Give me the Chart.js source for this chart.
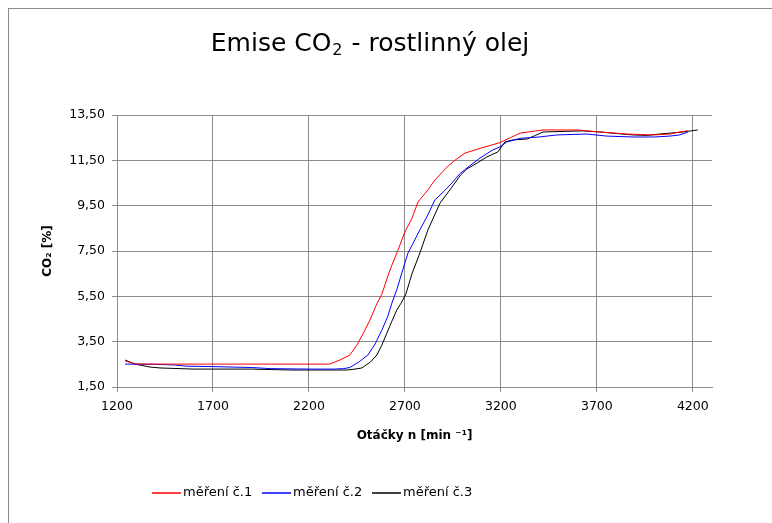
<!DOCTYPE html>
<html>
<head>
<meta charset="utf-8">
<script src="https://cdn.jsdelivr.net/npm/chart.js@4"></script>
<style>
  html, body { margin: 0; padding: 0; background: #fff; }
  #wrap { position: relative; width: 772px; height: 523px; }
</style>
</head>
<body>
<div id="wrap"><canvas id="chart" width="772" height="523"></canvas></div>
<script>
// === data ===
const seriesNames = ["měření č.1", "měření č.2", "měření č.3"];
const seriesColors = ["#ff0000", "#0000ff", "#000000"];

const mereni1X = [1242, 1270, 1300, 1400, 2000, 2309, 2340, 2361, 2413, 2450, 2485, 2518, 2550, 2580, 2622, 2664, 2700, 2737, 2768, 2820, 2856, 2919, 2960, 3013, 3100, 3195, 3250, 3300, 3419, 3596, 3716, 3856, 3992, 4080, 4132, 4174];
const mereni1Y = [2.65, 2.58, 2.52, 2.51, 2.51, 2.51, 2.62, 2.69, 2.91, 3.35, 3.90, 4.46, 5.10, 5.60, 6.66, 7.54, 8.34, 8.95, 9.66, 10.20, 10.63, 11.20, 11.50, 11.82, 12.05, 12.28, 12.50, 12.70, 12.84, 12.84, 12.75, 12.66, 12.62, 12.66, 12.75, 12.80];

const mereni2X = [1242, 1400, 1500, 1560, 1700, 1900, 2000, 2200, 2330, 2380, 2413, 2460, 2507, 2545, 2580, 2610, 2632, 2658, 2690, 2716, 2740, 2778, 2820, 2856, 2905, 2945, 2985, 3023, 3091, 3158, 3195, 3231, 3299, 3400, 3492, 3648, 3752, 3888, 4000, 4080, 4132, 4174];
const mereni2Y = [2.51, 2.50, 2.47, 2.42, 2.40, 2.36, 2.31, 2.29, 2.29, 2.31, 2.36, 2.60, 2.91, 3.40, 4.01, 4.60, 5.20, 5.80, 6.70, 7.41, 7.80, 8.43, 9.10, 9.75, 10.15, 10.50, 10.90, 11.16, 11.60, 11.96, 12.09, 12.31, 12.47, 12.53, 12.62, 12.66, 12.57, 12.53, 12.53, 12.57, 12.62, 12.75];

const mereni3X = [1242, 1294, 1372, 1424, 1600, 1900, 2100, 2398, 2440, 2476, 2520, 2554, 2580, 2606, 2632, 2658, 2680, 2705, 2737, 2778, 2820, 2882, 2945, 2990, 3023, 3080, 3127, 3184, 3221, 3263, 3336, 3380, 3419, 3627, 3716, 3888, 3960, 4028, 4148, 4226];
const mereni3Y = [2.69, 2.51, 2.38, 2.34, 2.29, 2.29, 2.25, 2.25, 2.29, 2.34, 2.60, 2.91, 3.35, 3.88, 4.40, 4.90, 5.20, 5.60, 6.50, 7.41, 8.43, 9.60, 10.32, 10.85, 11.12, 11.40, 11.65, 11.87, 12.31, 12.40, 12.44, 12.60, 12.75, 12.80, 12.75, 12.62, 12.60, 12.66, 12.75, 12.84];

const yTicks = [1.5, 3.5, 5.5, 7.5, 9.5, 11.5, 13.5];
const xTicks = [1200, 1700, 2200, 2700, 3200, 3700, 4200];

const titleParts = ["Emise CO", "2", " - rostlinný olej"];
const yTitle = "CO\u2082 [%]";
const xTitle = "Otáčky n [min \u207B\u00B9]";

const gridColor = "#8c8c8c";

function pts(xs, ys) {
  return xs.map((x, i) => ({ x: x, y: ys[i] }));
}

// rámeček, nadpis a legenda kreslíme sami
const decorPlugin = {
  id: "decor",
  beforeDraw(chart) {
    const c = chart.ctx;
    c.save();
    c.fillStyle = "#fff";
    c.fillRect(0, 0, chart.width, chart.height);
    c.fillStyle = "#8a8a8a";
    c.fillRect(8, 8, 800, 1);
    c.fillRect(8, 8, 1, 800);
    c.restore();
  },
  afterDraw(chart) {
    const c = chart.ctx;
    c.save();
    // title
    const big = "25px 'DejaVu Sans', sans-serif";
    const small = "16px 'DejaVu Sans', sans-serif";
    c.fillStyle = "#000";
    c.textAlign = "left";
    c.textBaseline = "alphabetic";
    c.font = big;
    const w0 = c.measureText(titleParts[0]).width;
    const w2 = c.measureText(titleParts[2]).width;
    c.font = small;
    const w1 = c.measureText(titleParts[1]).width + 2;
    let x = 370 - (w0 + w1 + w2) / 2;
    const base = 51;
    c.font = big;
    c.fillText(titleParts[0], x, base);
    x += w0 + 1;
    c.font = small;
    c.fillText(titleParts[1], x, base + 4);
    x += w1 - 1;
    c.font = big;
    c.fillText(titleParts[2], x, base);

    // legend
    c.font = "13px 'DejaVu Sans', sans-serif";
    c.textBaseline = "middle";
    const legY = 493;
    const legX = [152, 262, 372];
    seriesNames.forEach((name, i) => {
      c.beginPath();
      c.strokeStyle = seriesColors[i];
      c.lineWidth = 1.5;
      c.moveTo(legX[i], legY);
      c.lineTo(legX[i] + 29, legY);
      c.stroke();
      c.fillStyle = "#000";
      c.fillText(name, legX[i] + 31, legY);
    });
    c.restore();
  }
};

const canvas = document.getElementById("chart");
const chart = new Chart(canvas, {
  type: "line",
  data: {
    datasets: [
      { label: seriesNames[0], data: pts(mereni1X, mereni1Y), borderColor: seriesColors[0] },
      { label: seriesNames[1], data: pts(mereni2X, mereni2Y), borderColor: seriesColors[1] },
      { label: seriesNames[2], data: pts(mereni3X, mereni3Y), borderColor: seriesColors[2] }
    ].map(d => Object.assign(d, { borderWidth: 1, pointRadius: 0, tension: 0, fill: false }))
  },
  options: {
    responsive: false,
    animation: false,
    events: [],
    layout: { padding: { left: 0, top: 115, right: 60, bottom: 0 } },
    plugins: { legend: { display: false }, title: { display: false }, tooltip: { enabled: false } },
    scales: {
      x: {
        type: "linear",
        min: 1200,
        max: 4300,
        afterFit(s) { s.height = 136; },
        afterBuildTicks(s) { s.ticks = xTicks.map(v => ({ value: v })); },
        grid: { color: gridColor, tickLength: 5, drawOnChartArea: true },
        border: { color: gridColor },
        ticks: { color: "#000", padding: 7, maxRotation: 0, font: { family: "'DejaVu Sans', sans-serif", size: 12.5 }, callback: v => String(v) },
        title: {
          display: true, text: xTitle, color: "#000", padding: { top: 0, bottom: 80 },
          font: { family: "'DejaVu Sans', sans-serif", size: 12, weight: "bold" }
        }
      },
      y: {
        type: "linear",
        min: 1.5,
        max: 13.5,
        afterFit(s) { s.width = 117; },
        afterBuildTicks(s) { s.ticks = yTicks.map(v => ({ value: v })); },
        grid: { color: gridColor, tickLength: 5 },
        border: { color: gridColor },
        ticks: { color: "#000", padding: 7, font: { family: "'DejaVu Sans', sans-serif", size: 12.5 }, callback: v => v.toFixed(2).replace(".", ",") },
        title: {
          display: true, text: yTitle, color: "#000", padding: { top: 41, bottom: 0 },
          font: { family: "'DejaVu Sans', sans-serif", size: 12, weight: "bold" }
        }
      }
    }
  },
  plugins: [decorPlugin]
});
</script>
</body>
</html>
